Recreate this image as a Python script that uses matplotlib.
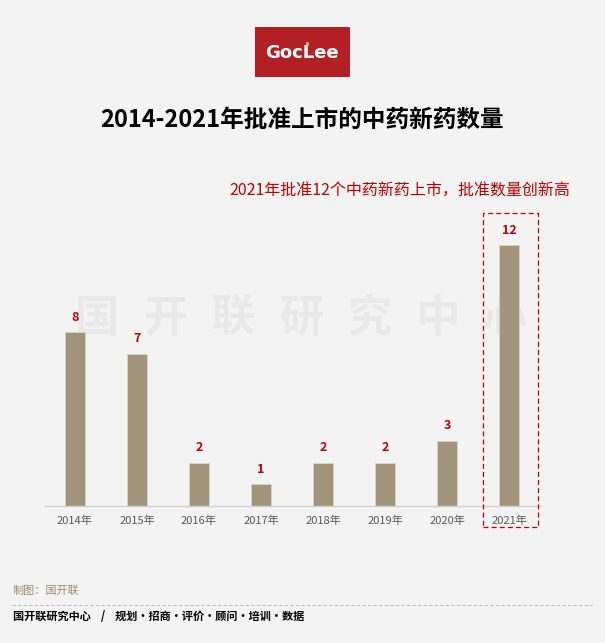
import matplotlib.pyplot as plt
from matplotlib.patches import Rectangle

plt.rcParams['font.family'] = ['Noto Sans CJK SC', 'DejaVu Sans']

# --- données ---
years = ['2014年', '2015年', '2016年', '2017年', '2018年', '2019年', '2020年', '2021年']
counts = [8, 7, 2, 1, 2, 2, 3, 12]
title = '2014-2021年批准上市的中药新药数量'
note = '2021年批准12个中药新药上市，批准数量创新高'
watermark = ['国', '开', '联', '研', '究', '中', '心']
source = '制图：国开联'
footer = '国开联研究中心    /    规划·招商·评价·顾问·培训·数据'

W, H = 605, 643
BG = '#f3f3f3'
BAR = '#a2947a'
RED = '#c00000'

fig = plt.figure(figsize=(W / 100, H / 100), dpi=100, facecolor=BG)


def fx(px):
    return px / W


def fy(py):
    return 1 - py / H


# watermark behind the bars
for i, ch in enumerate(watermark):
    fig.text(fx(97 + 68 * i), fy(319), ch, fontsize=32, fontweight='bold',
             color='#e8e8e8', ha='center', va='center', zorder=0)

# axes placed in pixels: baseline at y=506, x from 45 to 540
ax_l, ax_r, ax_b, ax_t = 45.2, 540, 506, 201.5
ax = fig.add_axes([fx(ax_l), fy(ax_b), fx(ax_r - ax_l), (ax_b - ax_t) / H])
ax.set_facecolor('none')
ax.set_zorder(2)

x = list(range(len(years)))
ax.bar(x, counts, width=0.31, color=BAR, edgecolor='#d9d4ca', linewidth=0.6, zorder=2)
for xi, v in zip(x, counts):
    ax.annotate(str(v), (xi, v), xytext=(0, 6), textcoords='offset points',
                ha='center', va='bottom', color=RED, fontsize=9, fontweight='bold')

ax.set_xlim(-0.48, 7.5)
ax.set_ylim(0, 14)
ax.set_yticks([])
ax.set_xticks(x)
ax.set_xticklabels(years, fontsize=8, color='#595959')
ax.tick_params(axis='x', length=0, pad=7)
for s in ['top', 'right', 'left']:
    ax.spines[s].set_visible(False)
ax.spines['bottom'].set_color('#d0d0d0')
ax.spines['bottom'].set_linewidth(1)

# dashed highlight box around 2021
ax.add_patch(Rectangle((6.58, -0.97), 0.89, 14.44, fill=False, edgecolor=RED,
                       linestyle=(0, (4, 2.5)), linewidth=0.9, clip_on=False, zorder=3))

# logo
fig.patches.append(Rectangle((fx(255), fy(77)), fx(95), 50 / H, transform=fig.transFigure,
                             facecolor='#b21f24', edgecolor='none'))
fig.text(fx(302), fy(53), 'GocLee', family='DejaVu Sans', fontsize=13, fontweight='bold',
         color='white', ha='center', va='center')
fig.patches.append(Rectangle((fx(306), fy(46)), fx(3), 4 / H, transform=fig.transFigure,
                             facecolor='#f29a2e', edgecolor='none'))

# titles
fig.text(fx(302), fy(120), title, fontsize=17, fontweight='bold', color='black',
         ha='center', va='center')
fig.text(fx(570), fy(191), note, fontsize=11.5, color=RED, ha='right', va='center')

# footer
fig.text(fx(13), fy(591), source, fontsize=8, color='#a08c6c', ha='left', va='center')
fig.add_artist(plt.Line2D([fx(12), fx(592)], [fy(605), fy(605)], color='#bdbdbd',
                          linestyle=(0, (3, 2)), linewidth=0.8))
fig.text(fx(13), fy(617), footer, fontsize=8, fontweight='bold', color='black',
         ha='left', va='center')

fig.savefig('out.png', dpi=100, facecolor=BG)
